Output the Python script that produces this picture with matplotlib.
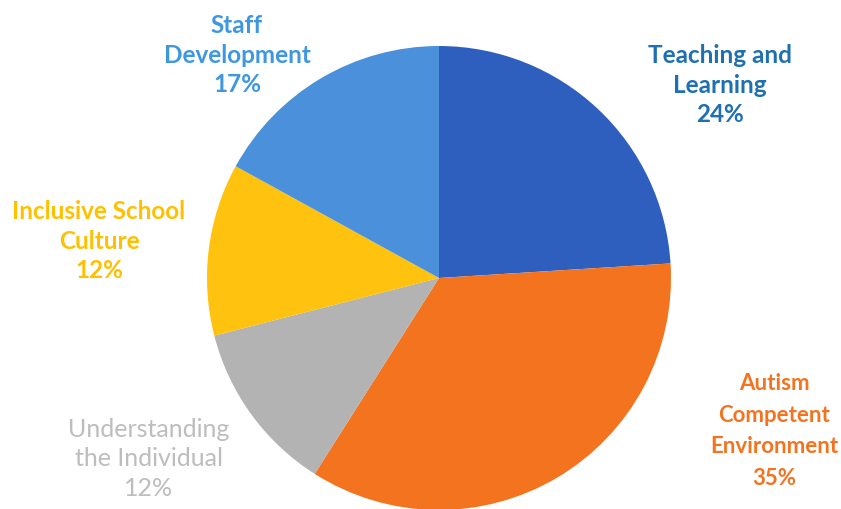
import matplotlib
matplotlib.use('Agg')
from matplotlib import pyplot as plt

# share of focus areas
areas = ['Teaching and\nLearning', 'Autism\nCompetent\nEnvironment',
         'Understanding\nthe Individual', 'Inclusive School\nCulture',
         'Staff\nDevelopment']
shares = [24, 35, 12, 12, 17]

slice_colors = ['#2F5FBE', '#F4731F', '#B3B3B3', '#FFC20E', '#4A90DB']
text_colors = ['#1F70B0', '#F4731F', '#BDBDBD', '#FFC000', '#3F97E0']
text_weights = ['bold', 'bold', 'normal', 'bold', 'bold']
text_sizes = [17.5, 16, 18, 17.5, 17.5]
text_spacing = [1.36, 1.62, 1.36, 1.36, 1.36]
# label anchors (pixels, origin bottom-left)
label_pos = [(720, 424), (774, 78), (149, 50), (99, 268), (237, 454)]

W, H = 841, 509
fig = plt.figure(figsize=(W / 100, H / 100), dpi=100)
ax = fig.add_axes([0, 0, 1, 1])

ax.pie(shares, colors=slice_colors, startangle=90, counterclock=False,
       center=(439, 231), radius=232, wedgeprops={'linewidth': 0})

for name, val, (x, y), c, w, s, ls in zip(areas, shares, label_pos, text_colors,
                                          text_weights, text_sizes, text_spacing):
    ax.text(x, y, f'{name}\n{val}%', ha='center', va='center', color=c,
            fontsize=s, fontweight=w, family=['Lato', 'DejaVu Sans'],
            linespacing=ls)

ax.set_xlim(0, W)
ax.set_ylim(0, H)
ax.set_aspect('equal')
ax.axis('off')

fig.savefig('out.png', dpi=100)
